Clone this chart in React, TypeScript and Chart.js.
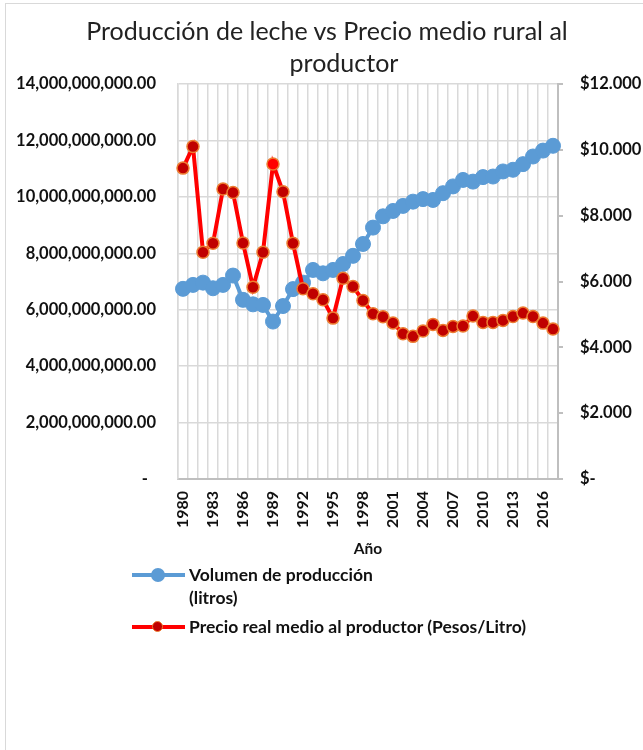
import React, { useEffect, useRef } from "react";
import { Chart, registerables } from "chart.js";

Chart.register(...registerables);

const years: string[] = [
  "1980", "1981", "1982", "1983", "1984", "1985", "1986", "1987", "1988", "1989",
  "1990", "1991", "1992", "1993", "1994", "1995", "1996", "1997", "1998", "1999",
  "2000", "2001", "2002", "2003", "2004", "2005", "2006", "2007", "2008", "2009",
  "2010", "2011", "2012", "2013", "2014", "2015", "2016", "2017",
];

const volumenLitros: number[] = [
  6.74e9, 6.88e9, 6.96e9, 6.76e9, 6.88e9, 7.21e9, 6.35e9, 6.19e9, 6.17e9, 5.58e9,
  6.13e9, 6.73e9, 6.96e9, 7.41e9, 7.29e9, 7.41e9, 7.62e9, 7.91e9, 8.33e9, 8.91e9,
  9.31e9, 9.5e9, 9.68e9, 9.83e9, 9.92e9, 9.89e9, 10.13e9, 10.37e9, 10.6e9, 10.54e9,
  10.7e9, 10.72e9, 10.9e9, 10.96e9, 11.16e9, 11.43e9, 11.64e9, 11.81e9,
];

const precioReal: number[] = [
  9445, 10100, 6888, 7161, 8809, 8706, 7172, 5827, 6888, 9567,
  8727, 7161, 5779, 5627, 5445, 4888, 6100, 5848, 5424, 5021,
  4928, 4742, 4415, 4333, 4494, 4697, 4515, 4636, 4646, 4949,
  4758, 4758, 4818, 4939, 5040, 4939, 4736, 4555,
];

const highlightedYear = "1989";

const titleLines = ["Producción de leche vs Precio medio rural al", "productor"];
const seriesNames = ["Volumen de producción", "(litros)", "Precio real medio al productor (Pesos/Litro)"];
const xTitle = "Año";

const FONT = "Lato, 'Open Sans', sans-serif";
const BLUE = "#5B9BD5";
const RED = "#FF0000";
const DARKRED = "#C00000";
const ORANGE = "#ED7D31";

export default function App() {
  const ref = useRef<HTMLCanvasElement | null>(null);

  useEffect(() => {
    if (!ref.current) return;
    const chart = new Chart(ref.current, {
      type: "line",
      data: {
        labels: years,
        datasets: [
          {
            label: seriesNames[0] + " " + seriesNames[1],
            data: volumenLitros,
            yAxisID: "y",
            borderColor: BLUE,
            backgroundColor: BLUE,
            borderWidth: 4,
            pointRadius: 7.5,
            pointBackgroundColor: BLUE,
            pointBorderColor: BLUE,
            pointBorderWidth: 1,
            tension: 0,
            order: 2,
          },
          {
            label: seriesNames[2],
            data: precioReal,
            yAxisID: "y1",
            borderColor: RED,
            backgroundColor: DARKRED,
            borderWidth: 4,
            pointRadius: 6,
            pointBackgroundColor: years.map((y) => (y === highlightedYear ? RED : DARKRED)),
            pointBorderColor: ORANGE,
            pointBorderWidth: 1.5,
            tension: 0,
            order: 1,
          },
        ],
      },
      options: {
        animation: false,
        responsive: false,
        maintainAspectRatio: false,
        layout: { padding: { top: 84, left: 0, right: 0, bottom: 188 } },
        plugins: {
          legend: { display: false },
          title: { display: false },
          tooltip: { enabled: false },
        },
        scales: {
          x: {
            type: "category",
            offset: true,
            grid: {
              display: true,
              offset: true,
              color: "#D9D9D9",
              lineWidth: 1.5,
              drawTicks: false,
            },
            border: { display: true, color: "#BFBFBF", width: 2 },
            ticks: {
              autoSkip: false,
              minRotation: 90,
              maxRotation: 90,
              padding: 12,
              color: "#111",
              font: { family: FONT, size: 16, weight: "bold" },
              callback: (_v: any, i: number) => (i % 3 === 0 ? years[i] : ""),
            },
            title: {
              display: true,
              text: xTitle,
              color: "#111",
              font: { family: FONT, size: 15.5, weight: "bold" },
              padding: { top: 4, bottom: 4 },
            },
            afterFit: (s: any) => {
              s.height = 83;
            },
          },
          y: {
            position: "left",
            min: 0,
            max: 14e9,
            grid: { color: "#D9D9D9", lineWidth: 1.5, drawTicks: false },
            border: { display: true, color: "#D9D9D9", width: 1.5 },
            ticks: {
              stepSize: 2e9,
              padding: 22,
              color: "#111",
              font: { family: FONT, size: 16.5, weight: "bold" },
              callback: (v: any) =>
                Number(v) === 0
                  ? "-  "
                  : Number(v).toLocaleString("en-US", { minimumFractionDigits: 2, maximumFractionDigits: 2 }),
            },
            afterFit: (s: any) => {
              s.width = 178;
            },
          },
          y1: {
            position: "right",
            min: 0,
            max: 12000,
            grid: {
              drawOnChartArea: false,
              drawTicks: true,
              tickLength: 5,
              color: "#BFBFBF",
              lineWidth: 2,
            },
            border: { display: true, color: "#BFBFBF", width: 2 },
            ticks: {
              stepSize: 2000,
              padding: 17,
              color: "#111",
              font: { family: FONT, size: 16.5, weight: "bold" },
              callback: (v: any) => (Number(v) === 0 ? "$-" : "$" + Number(v).toLocaleString("de-DE")),
            },
            afterFit: (s: any) => {
              s.width = 85;
            },
          },
        },
      },
    });
    return () => chart.destroy();
  }, []);

  const textStyle: React.CSSProperties = {
    position: "absolute",
    fontFamily: FONT,
    fontWeight: "bold",
    fontSize: 17.5,
    color: "#111",
    whiteSpace: "nowrap",
    lineHeight: "20px",
  };

  const titleStyle: React.CSSProperties = {
    position: "absolute",
    left: 0,
    textAlign: "center",
    fontFamily: FONT,
    fontSize: 25,
    lineHeight: "32px",
    color: "#222",
    whiteSpace: "nowrap",
  };

  return (
    <div
      style={{
        position: "absolute",
        left: 0,
        top: 0,
        width: 643,
        height: 750,
        overflow: "hidden",
        background: "#fff",
      }}
    >
      <div
        style={{
          position: "absolute",
          left: 5,
          top: 3,
          width: 700,
          height: 800,
          border: "1px solid #D9D9D9",
          boxSizing: "border-box",
        }}
      />
      <canvas ref={ref} width={643} height={750} style={{ position: "absolute", left: 0, top: 0 }} />
      <div style={{ ...titleStyle, width: 654, top: 14 }}>{titleLines[0]}</div>
      <div style={{ ...titleStyle, width: 688, top: 46 }}>{titleLines[1]}</div>
      {/* legend */}
      <div style={{ position: "absolute", left: 132, top: 573, width: 53, height: 4, background: BLUE }} />
      <div
        style={{
          position: "absolute",
          left: 151,
          top: 568,
          width: 14,
          height: 14,
          borderRadius: "50%",
          background: BLUE,
        }}
      />
      <div style={{ ...textStyle, left: 189, top: 565 }}>{seriesNames[0]}</div>
      <div style={{ ...textStyle, left: 189, top: 588 }}>{seriesNames[1]}</div>
      <div style={{ position: "absolute", left: 132, top: 625, width: 53, height: 4, background: RED }} />
      <div
        style={{
          position: "absolute",
          left: 152,
          top: 621,
          width: 9,
          height: 9,
          borderRadius: "50%",
          background: DARKRED,
          border: "1.5px solid " + ORANGE,
        }}
      />
      <div style={{ ...textStyle, left: 189, top: 617 }}>{seriesNames[2]}</div>
    </div>
  );
}
